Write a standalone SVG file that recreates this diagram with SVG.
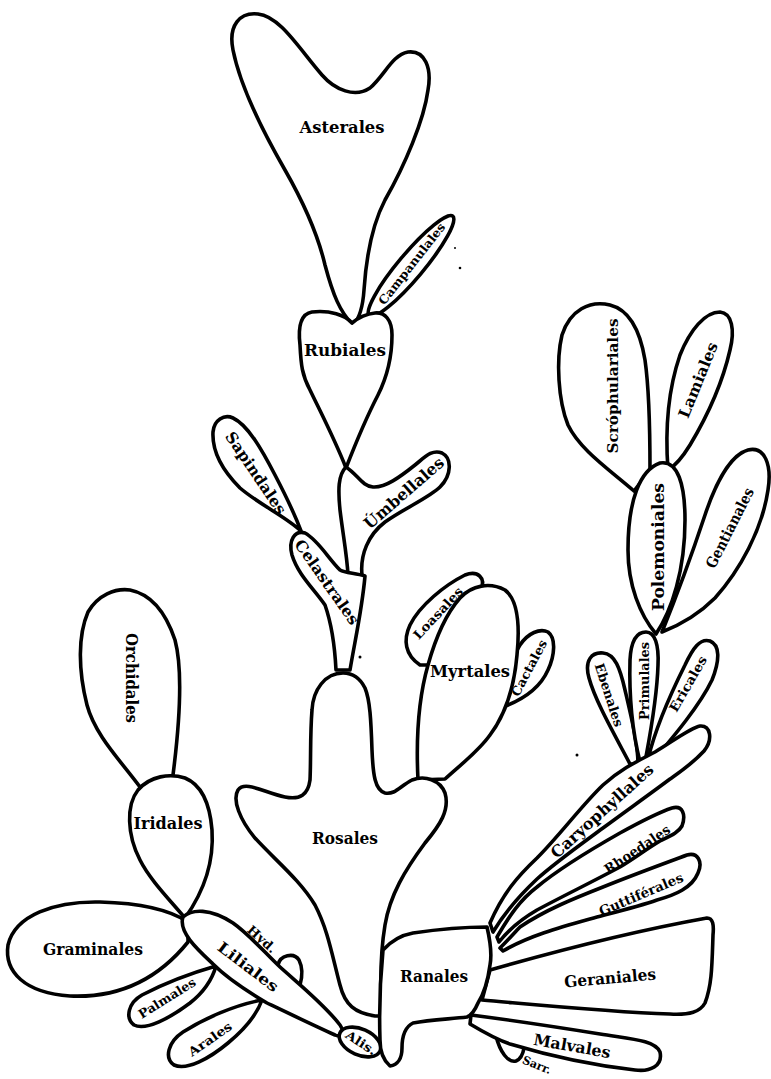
<svg xmlns="http://www.w3.org/2000/svg" width="771" height="1079" viewBox="0 0 771 1079">
<style>
.s{fill:#fff;stroke:#000;stroke-width:3.6;stroke-linejoin:round;stroke-linecap:round}
.t{font-family:"DejaVu Serif","Liberation Serif",serif;font-weight:bold;text-anchor:middle;dominant-baseline:central;fill:#000}
.dot{fill:#000}
</style>
<rect width="771" height="1079" fill="#fff"/>
<g id="orchidales"><path class="s" d="M140,787 C120,760 95,735 87,705 C78,670 78,635 88,612 C98,595 115,588 130,590 C150,594 165,610 175,640 C183,670 180,720 173,775 Z"/><text class="t" font-size="16" textLength="90" lengthAdjust="spacingAndGlyphs" transform="translate(131,678) rotate(90)">Orchidales</text></g>
<g id="iridales"><path class="s" d="M185,918 C170,900 150,880 140,860 C127,835 126,805 138,790 C150,776 170,773 185,778 C202,785 210,805 212,830 C214,860 205,890 185,918 Z"/><text class="t" font-size="16.5" textLength="69" lengthAdjust="spacingAndGlyphs" x="168" y="823">Iridales</text></g>
<g id="graminales"><path class="s" d="M188,922 C170,910 140,903 100,902 C55,901 15,915 8,945 C4,972 25,993 70,996 C115,998 155,983 188,942 Z"/><text class="t" font-size="16.5" textLength="100" lengthAdjust="spacingAndGlyphs" x="93" y="949">Graminales</text></g>
<g id="palmales"><path class="s" d="M216,966 C195,972 165,983 142,995 C128,1003 125,1018 134,1025 C146,1031 170,1018 190,1003 C204,992 212,980 216,966 Z"/><text class="t" font-size="12.5" textLength="65" lengthAdjust="spacingAndGlyphs" transform="translate(167,998) rotate(-32)">Palmales</text></g>
<g id="arales"><path class="s" d="M262,1000 C235,1005 205,1018 183,1032 C168,1042 164,1058 174,1065 C187,1071 210,1058 228,1043 C245,1029 257,1014 262,1000 Z"/><text class="t" font-size="12.5" textLength="50" lengthAdjust="spacingAndGlyphs" transform="translate(210,1039) rotate(-35)">Arales</text></g>
<g id="liliales"><path class="s" d="M278,965 C280,955 294,952 299,960 C303,968 302,978 300,985"/><path class="s" d="M183,917 C192,909 210,908 233,923 C250,935 265,953 280,967 C300,985 325,1005 340,1025 C345,1032 341,1038 335,1035 C315,1026 290,1014 267,1003 C245,990 225,976 213,964 C198,950 178,932 183,917 Z"/><text class="t" font-size="15" textLength="72" lengthAdjust="spacingAndGlyphs" transform="translate(248,967) rotate(37)">Liliales</text><text class="t" font-size="12.5" textLength="34" lengthAdjust="spacingAndGlyphs" transform="translate(262,939) rotate(42)">Hyd.</text></g>
<g id="alis"><ellipse class="s" cx="360" cy="1042" rx="22" ry="13" transform="rotate(24 360 1042)"/><text class="t" font-size="12" textLength="34" lengthAdjust="spacingAndGlyphs" transform="translate(361,1043) rotate(33)">Alis.</text></g>
<g id="asterales"><path class="s" d="M353,325 C340,312 333,295 325,265 C318,235 305,205 285,170 C262,130 240,85 233,50 C228,25 240,12 258,14 C280,16 300,50 322,75 C335,90 355,98 370,88 C385,75 392,55 408,52 C425,50 432,68 428,90 C424,120 405,165 385,200 C372,225 366,260 364,290 C363,305 360,318 353,325 Z"/><text class="t" font-size="16.5" textLength="85" lengthAdjust="spacingAndGlyphs" x="342" y="127">Asterales</text></g>
<g id="campanulales"><ellipse class="s" cx="411" cy="266" rx="65" ry="12.5" transform="rotate(-50 411 266)"/><text class="t" font-size="12" textLength="100" lengthAdjust="spacingAndGlyphs" transform="translate(412,264) rotate(-52)">Campanulales</text></g>
<g id="rubiales"><path class="s" d="M352,323 C345,315 330,310 312,312 C300,314 298,328 300,345 C301,365 302,375 310,390 C322,415 335,440 346,468 C353,450 365,420 378,395 C388,375 392,355 392,335 C392,320 385,312 375,313 C365,314 358,318 352,323 Z"/><text class="t" font-size="16.5" textLength="82" lengthAdjust="spacingAndGlyphs" x="345" y="350">Rubiales</text></g>
<g id="umbellales"><path class="s" d="M346,467 C338,475 338,490 340,510 C343,535 347,555 348,575 L362,575 C360,555 368,535 385,522 C405,508 430,497 440,487 C452,475 452,458 442,453 C432,449 425,457 415,465 C400,477 385,488 373,487 C362,486 358,475 346,467 Z"/><text class="t" font-size="16" textLength="100" lengthAdjust="spacingAndGlyphs" transform="translate(404,493) rotate(-41)">Úmbellales</text></g>
<g id="sapindales"><path class="s" d="M301,531 C285,516 260,505 240,488 C222,470 212,450 213,432 C214,420 224,414 233,418 C248,425 262,450 275,475 C287,498 295,515 301,531 Z"/><text class="t" font-size="15.5" textLength="96" lengthAdjust="spacingAndGlyphs" transform="translate(256,473) rotate(56)">Sapindales</text></g>
<g id="celastrales"><path class="s" d="M305,533 C295,530 288,540 292,555 C298,575 315,590 325,605 C332,625 335,650 336,670 L350,670 C355,640 362,610 365,576 C355,573 345,573 340,570 C328,558 318,540 305,533 Z"/><text class="t" font-size="15.5" textLength="100" lengthAdjust="spacingAndGlyphs" transform="translate(327,582) rotate(55)">Celastrales</text></g>
<g id="loasales"><path class="s" d="M420,665 C405,655 403,640 410,625 C420,605 445,585 465,575 C478,570 486,578 481,590 C470,610 445,640 428,665 Z"/><text class="t" font-size="12.5" textLength="66" lengthAdjust="spacingAndGlyphs" transform="translate(438,613) rotate(-47)">Loasales</text></g>
<g id="cactales"><path class="s" d="M503,707 C505,685 510,660 520,645 C528,633 540,628 548,632 C556,638 555,655 548,670 C540,688 522,700 503,707 Z"/><text class="t" font-size="12.5" textLength="62" lengthAdjust="spacingAndGlyphs" transform="translate(529,668) rotate(-62)">Cactales</text></g>
<g id="myrtales"><path class="s" d="M418,780 C416,740 418,700 428,665 C435,640 445,615 460,598 C472,585 490,582 505,590 C518,600 520,625 517,655 C514,690 505,715 490,735 C478,752 460,765 445,779 Z"/><text class="t" font-size="16.5" textLength="80" lengthAdjust="spacingAndGlyphs" x="470" y="671">Myrtales</text></g>
<g id="rosales"><path class="s" d="M343,673 C325,673 313,690 312,710 C310,735 311,760 310,780 C308,795 300,800 285,797 C265,793 245,780 238,790 C232,800 240,820 255,838 C275,860 300,880 315,905 C328,930 332,955 340,985 C345,1005 355,1013 375,1016 L382,1016 C380,985 380,955 385,925 C390,895 405,870 425,843 C440,825 450,810 445,793 C440,780 425,775 412,780 C400,786 395,795 385,793 C375,790 373,775 372,750 C371,720 370,700 365,688 C360,678 352,673 343,673 Z"/><text class="t" font-size="16" textLength="66" lengthAdjust="spacingAndGlyphs" x="345" y="838">Rosales</text></g>
<g id="scrophulariales"><path class="s" d="M634,491 C610,470 580,450 568,425 C558,400 556,360 562,335 C570,310 590,300 610,305 C630,310 640,330 645,360 C650,395 650,440 650,470 Z"/><text class="t" font-size="15.5" textLength="135" lengthAdjust="spacingAndGlyphs" transform="translate(612,386) rotate(-90)">Scróphulariales</text></g>
<g id="lamiales"><path class="s" d="M668,470 C665,430 668,390 680,355 C690,330 705,312 720,312 C732,313 735,330 730,350 C722,385 705,420 690,445 C682,458 675,466 668,470 Z"/><text class="t" font-size="15.5" textLength="80" lengthAdjust="spacingAndGlyphs" transform="translate(698,380) rotate(-68)">Lamiales</text></g>
<g id="gentianales"><path class="s" d="M662,632 C675,600 690,560 705,515 C715,485 730,455 748,450 C765,446 772,465 768,490 C762,530 740,570 715,598 C698,615 680,625 662,632 Z"/><text class="t" font-size="15" textLength="88" lengthAdjust="spacingAndGlyphs" transform="translate(730,528) rotate(-63)">Gentianales</text></g>
<g id="polemoniales"><path class="s" d="M656,634 C640,615 628,585 628,550 C628,500 640,470 660,463 C678,460 685,485 685,520 C685,570 672,610 656,634 Z"/><text class="t" font-size="16" textLength="128" lengthAdjust="spacingAndGlyphs" transform="translate(658,547) rotate(-90)">Polemoniales</text></g>
<g id="ebenales"><path class="s" d="M630,764 C612,730 595,700 589,678 C584,660 592,652 603,653 C615,654 620,668 625,690 C632,720 638,745 638,764 Z"/><text class="t" font-size="13" textLength="66" lengthAdjust="spacingAndGlyphs" transform="translate(609,695) rotate(72)">Ebenales</text></g>
<g id="ericales"><path class="s" d="M648,759 C655,730 670,695 685,665 C693,648 700,638 710,641 C720,645 720,660 712,680 C700,705 675,735 652,762 Z"/><text class="t" font-size="13" textLength="62" lengthAdjust="spacingAndGlyphs" transform="translate(688,684) rotate(-60)">Ericales</text></g>
<g id="primulales"><path class="s" d="M640,762 C632,730 629,695 630,660 C631,640 637,632 646,632 C655,632 659,645 658,665 C657,700 650,735 645,762 Z"/><text class="t" font-size="13" textLength="78" lengthAdjust="spacingAndGlyphs" transform="translate(644,681) rotate(-90)">Primulales</text></g>
<g id="caryophyllales"><path class="s" d="M490,923 C503,893 518,876 537,858 C560,835 582,805 603,785 C622,768 640,760 655,752 C672,742 690,728 700,726 C711,725 713,740 704,751 C692,764 680,772 670,779 C650,794 626,811 603,828 C580,845 556,862 537,879 C520,895 505,912 493,932 Z"/><text class="t" font-size="16" textLength="132" lengthAdjust="spacingAndGlyphs" transform="translate(602,811) rotate(-42)">Caryophyllales</text></g>
<g id="rhoedales"><path class="s" d="M497,937 C510,915 520,900 537,887 C560,868 590,850 620,833 C640,822 660,812 672,808 C683,805 686,815 682,826 C678,833 670,836 660,841 C645,850 635,858 620,867 C590,883 565,895 537,910 C525,917 510,928 499,942 Z"/><text class="t" font-size="13.5" textLength="76" lengthAdjust="spacingAndGlyphs" transform="translate(637,849) rotate(-34)">Rhoedales</text></g>
<g id="guttiferales"><path class="s" d="M500,948 C510,938 515,932 520,927 C545,910 575,898 603,887 C630,876 660,865 687,855 C698,852 703,862 698,873 C692,888 675,895 657,900 C640,906 620,911 597,917 C565,926 530,935 503,951 Z"/><text class="t" font-size="13.5" textLength="90" lengthAdjust="spacingAndGlyphs" transform="translate(641,894) rotate(-23)">Guttiférales</text></g>
<g id="geraniales"><path class="s" d="M490,970 C560,950 640,930 707,918 C713,918 714,925 713,935 C712,965 712,985 705,1003 C700,1012 690,1015 670,1014 C610,1012 550,1006 482,1000 Z"/><text class="t" font-size="16" textLength="92" lengthAdjust="spacingAndGlyphs" transform="translate(610,978) rotate(-5)">Geraniales</text></g>
<g id="sarr"><path class="s" d="M496,1036 C500,1052 508,1063 516,1061 C521,1059 523,1054 524,1048"/><text class="t" font-size="11.5" textLength="30" lengthAdjust="spacingAndGlyphs" transform="translate(537,1065) rotate(22)">Sarr.</text></g>
<g id="malvales"><path class="s" d="M471,1015 C510,1020 550,1026 600,1034 C630,1039 655,1040 660,1052 C663,1066 650,1072 635,1070 C590,1065 550,1056 510,1044 C495,1039 480,1030 470,1024 Z"/><text class="t" font-size="16" textLength="78" lengthAdjust="spacingAndGlyphs" transform="translate(572,1046) rotate(10)">Malvales</text></g>
<g id="ranales"><path class="s" d="M383,950 C392,940 402,935 413,933 C440,929 465,927 487,927 C490,940 492,955 490,965 C488,980 485,992 478,1003 C475,1010 472,1015 467,1017 C450,1019 430,1020 413,1023 C405,1027 402,1035 402,1048 C402,1058 398,1065 390,1066 C383,1060 380,1050 380,1040 C379,1010 380,980 383,950 Z"/><text class="t" font-size="16" textLength="68" lengthAdjust="spacingAndGlyphs" x="434" y="976">Ranales</text></g>
<g id="connectors"></g>
<g id="specks"><circle class="dot" cx="455" cy="248" r="1"/><circle class="dot" cx="460" cy="268" r="1.3"/><circle class="dot" cx="360" cy="657" r="1.5"/><circle class="dot" cx="577" cy="755" r="1.5"/></g>
</svg>
